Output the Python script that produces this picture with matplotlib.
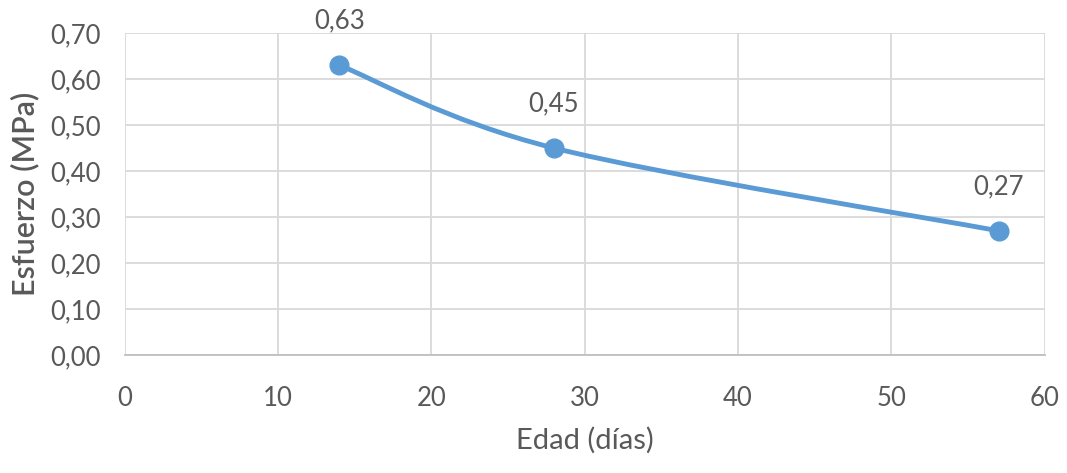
import matplotlib
matplotlib.use('Agg')
import matplotlib.pyplot as plt
from matplotlib.path import Path
from matplotlib.patches import PathPatch
import numpy as np

# Data
edad = [14, 28, 57]
esfuerzo = [0.63, 0.45, 0.27]
etiquetas = ['0,63', '0,45', '0,27']
xticks = [0, 10, 20, 30, 40, 50, 60]
yticks = [0.0, 0.1, 0.2, 0.3, 0.4, 0.5, 0.6, 0.7]

azul = '#5B9BD5'
gris = '#595959'

plt.rcParams['font.family'] = ['Lato', 'DejaVu Sans']

fig = plt.figure(figsize=(10.67, 4.73), dpi=100)
ax = fig.add_axes([0.117, 0.2495, 0.862, 0.6805])

# Smoothed line (Excel-style bezier through the points)
pts = np.column_stack([edad, esfuerzo])
verts = [tuple(pts[0])]
codes = [Path.MOVETO]
n = len(pts)
for i in range(n - 1):
    p0 = pts[i - 1] if i > 0 else pts[i]
    p1 = pts[i]
    p2 = pts[i + 1]
    p3 = pts[i + 2] if i + 2 < n else pts[i + 1]
    c1 = p1 + (p2 - p0) / 6
    c2 = p2 - (p3 - p1) / 6
    verts += [tuple(c1), tuple(c2), tuple(p2)]
    codes += [Path.CURVE4] * 3
ax.add_patch(PathPatch(Path(verts, codes), facecolor='none', edgecolor=azul,
                       lw=3.5, capstyle='round', zorder=3))

ax.plot(edad, esfuerzo, 'o', color=azul, ms=13.5, zorder=4)

for x, y, t in zip(edad, esfuerzo, etiquetas):
    ax.annotate(t, (x, y), xytext=(0, 23), textcoords='offset points',
                ha='center', va='bottom', fontsize=18.5, color=gris)

ax.set_xlim(0, 60)
ax.set_ylim(0, 0.7)
ax.set_xticks(xticks)
ax.set_yticks(yticks)
ax.set_xticklabels([str(v) for v in xticks])
ax.set_yticklabels([f'{v:.2f}'.replace('.', ',') for v in yticks])
ax.tick_params(axis='both', length=0, labelsize=18.5, labelcolor=gris)
ax.tick_params(axis='y', pad=17)
ax.tick_params(axis='x', pad=22)

ax.grid(True, color='#D9D9D9', lw=1.3)
ax.set_axisbelow(True)
for s in ['top', 'right', 'left']:
    ax.spines[s].set_visible(False)
ax.spines['bottom'].set_color('#BFBFBF')
ax.spines['bottom'].set_linewidth(1.3)

ax.set_xlabel('Edad (días)', fontsize=21, color=gris, labelpad=12)
ax.set_ylabel('Esfuerzo (MPa)', fontsize=22, color=gris, fontweight='semibold', labelpad=8)

fig.savefig('out.png', dpi=100)
